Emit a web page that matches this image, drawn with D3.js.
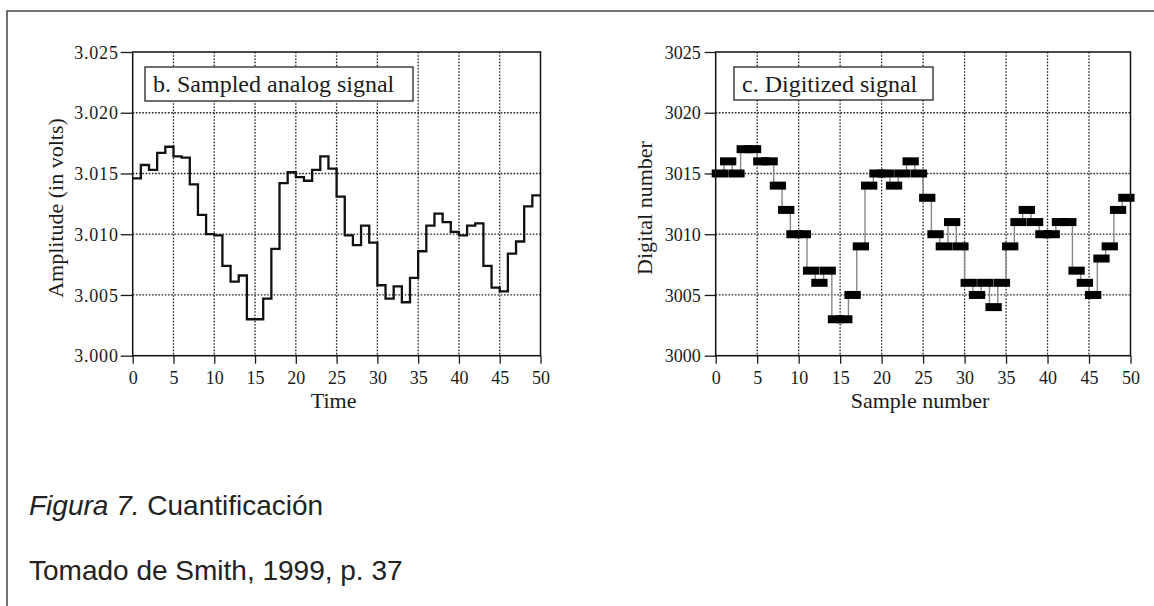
<!DOCTYPE html>
<html>
<head>
<meta charset="utf-8">
<script src="https://cdn.jsdelivr.net/npm/d3@7"></script>
<style>
  body { margin: 0; background: #fff; }
  svg { display: block; }
  .tick text { font-family: "Liberation Serif", "Times New Roman", serif; font-size: 18px; fill: #1a1a1a; }
  .tick line { stroke: #1a1a1a; stroke-width: 1.3; }
</style>
</head>
<body>
<svg id="fig" width="1154" height="606"></svg>
<script>
// sampled analog signal (volts), one value per sample 0..49
var analogValues = [3.0146, 3.0157, 3.0153, 3.0167, 3.0172, 3.0164, 3.0163, 3.0141, 3.0116, 3.0100,
  3.0099, 3.0074, 3.0061, 3.0066, 3.0030, 3.0030, 3.0047, 3.0088, 3.0142, 3.0151,
  3.0147, 3.0144, 3.0153, 3.0164, 3.0154, 3.0131, 3.0099, 3.0091, 3.0107, 3.0093,
  3.0058, 3.0047, 3.0057, 3.0044, 3.0064, 3.0086, 3.0107, 3.0117, 3.0110, 3.0102,
  3.0099, 3.0107, 3.0109, 3.0074, 3.0056, 3.0053, 3.0084, 3.0094, 3.0123, 3.0132];

// digitized signal (digital number), one value per sample 0..49
var digitalValues = [3015, 3016, 3015, 3017, 3017, 3016, 3016, 3014, 3012, 3010,
  3010, 3007, 3006, 3007, 3003, 3003, 3005, 3009, 3014, 3015,
  3015, 3014, 3015, 3016, 3015, 3013, 3010, 3009, 3011, 3009,
  3006, 3005, 3006, 3004, 3006, 3009, 3011, 3012, 3011, 3010,
  3010, 3011, 3011, 3007, 3006, 3005, 3008, 3009, 3012, 3013];

var xTicks = [0, 5, 10, 15, 20, 25, 30, 35, 40, 45, 50];
var analogTicks = [3.000, 3.005, 3.010, 3.015, 3.020, 3.025];
var digitalTicks = [3000, 3005, 3010, 3015, 3020, 3025];

var serif = '"Liberation Serif", "Times New Roman", serif';
var svg = d3.select('#fig');

// outer frame of the figure
svg.append('rect')
  .attr('x', 7).attr('y', 11)
  .attr('width', 1160).attr('height', 620)
  .attr('fill', 'none').attr('stroke', '#444').attr('stroke-width', 1.5);

function drawPanel(opt) {
  var x = d3.scaleLinear().domain([0, 50]).range([opt.left, opt.right]);
  var y = d3.scaleLinear().domain(opt.yDomain).range([355.7, 52]);
  var g = svg.append('g');

  // grid (dotted)
  g.selectAll('line.vgrid')
    .data(xTicks.slice(1, -1))
    .enter().append('line')
    .attr('x1', d => x(d)).attr('x2', d => x(d))
    .attr('y1', y.range()[1]).attr('y2', y.range()[0])
    .attr('stroke', '#222').attr('stroke-width', 1.3).attr('stroke-dasharray', '1.6,1.6');
  g.selectAll('line.hgrid')
    .data(opt.yTicks.slice(1, -1))
    .enter().append('line')
    .attr('y1', d => y(d)).attr('y2', d => y(d))
    .attr('x1', x.range()[0]).attr('x2', x.range()[1])
    .attr('stroke', '#222').attr('stroke-width', 1.3).attr('stroke-dasharray', '1.6,1.6');

  // axes
  var ax = g.append('g')
    .attr('transform', 'translate(0,' + y.range()[0] + ')')
    .call(d3.axisBottom(x).tickValues(xTicks).tickSize(8).tickPadding(8).tickFormat(d3.format('d')));
  ax.select('.domain').remove();

  var ay = g.append('g')
    .attr('transform', 'translate(' + x.range()[0] + ',0)')
    .call(d3.axisLeft(y).tickValues(opt.yTicks).tickSize(opt.tickLen).tickPadding(opt.tickPad).tickFormat(opt.fmt));
  ay.select('.domain').remove();
  ay.selectAll('.tick text').attr('dy', '0.34em').style('letter-spacing', opt.spacing);

  // legend box
  g.append('rect')
    .attr('x', opt.legend[0]).attr('y', opt.legend[1])
    .attr('width', opt.legend[2]).attr('height', opt.legend[3])
    .attr('fill', '#fff').attr('stroke', '#222').attr('stroke-width', 1.3);
  g.append('text')
    .attr('x', opt.legend[0] + 8).attr('y', opt.legend[1] + 24.5)
    .attr('font-family', serif).attr('font-size', 24).attr('fill', '#1a1a1a')
    .text(opt.title);

  // axis titles
  g.append('text')
    .attr('x', (x.range()[0] + x.range()[1]) / 2 - 3).attr('y', 408)
    .attr('text-anchor', 'middle')
    .attr('font-family', serif).attr('font-size', 22).attr('fill', '#1a1a1a')
    .text(opt.xLabel);
  g.append('text')
    .attr('transform', 'translate(' + opt.yLabelX + ',208) rotate(-90)')
    .attr('text-anchor', 'middle')
    .attr('font-family', serif).attr('font-size', 22).attr('fill', '#1a1a1a')
    .text(opt.yLabel);

  return { g: g, x: x, y: y };
}

// b. sampled analog signal
var p1 = drawPanel({
  left: 132.7, right: 540.5, yDomain: [3.000, 3.025], yTicks: analogTicks,
  fmt: d3.format('.3f'), tickLen: 12, tickPad: 2, spacing: '0.8px',
  legend: [145, 67, 268, 34], title: 'b. Sampled analog signal',
  xLabel: 'Time', yLabel: 'Amplitude (in volts)', yLabelX: 63
});

var analogPts = analogValues.map((v, i) => [i, v]);
analogPts.push([analogValues.length, analogValues[analogValues.length - 1]]);

var stepLine = d3.line()
  .x(d => p1.x(d[0]))
  .y(d => p1.y(d[1]))
  .curve(d3.curveStepAfter);

p1.g.append('path')
  .datum(analogPts)
  .attr('d', stepLine)
  .attr('fill', 'none').attr('stroke', '#111').attr('stroke-width', 2.3);

// c. digitized signal
var p2 = drawPanel({
  left: 715.7, right: 1130.5, yDomain: [3000, 3025], yTicks: digitalTicks,
  fmt: d3.format('d'), tickLen: 11, tickPad: 4, spacing: '0px',
  legend: [734, 67, 199, 33], title: 'c. Digitized signal',
  xLabel: 'Sample number', yLabel: 'Digital number', yLabelX: 652
});

// thin connectors between consecutive levels
p2.g.selectAll('line.conn')
  .data(digitalValues.slice(1))
  .enter().append('line')
  .attr('x1', (d, i) => p2.x(i + 1)).attr('x2', (d, i) => p2.x(i + 1))
  .attr('y1', (d, i) => p2.y(digitalValues[i])).attr('y2', d => p2.y(d))
  .attr('stroke', '#888').attr('stroke-width', 1.4);

// thick level bars
p2.g.selectAll('rect.bar')
  .data(digitalValues)
  .enter().append('rect')
  .attr('x', (d, i) => p2.x(i) - 4)
  .attr('width', (d, i) => p2.x(i + 1) - p2.x(i) + 8)
  .attr('y', d => p2.y(d) - 4)
  .attr('height', 8)
  .attr('fill', '#000');

// plot frames
[p1, p2].forEach(function (p) {
  p.g.append('rect')
    .attr('x', p.x.range()[0]).attr('y', p.y.range()[1])
    .attr('width', p.x.range()[1] - p.x.range()[0])
    .attr('height', p.y.range()[0] - p.y.range()[1])
    .attr('fill', 'none').attr('stroke', '#111').attr('stroke-width', 1.5);
});

// caption
var cap = svg.append('g').attr('font-family', '"Liberation Sans", Arial, sans-serif')
  .attr('font-size', 28).attr('fill', '#222');
var line1 = cap.append('text').attr('x', 29).attr('y', 515);
line1.append('tspan').attr('font-style', 'italic').text('Figura 7.');
line1.append('tspan').text(' Cuantificación');
cap.append('text').attr('x', 29).attr('y', 580).text('Tomado de Smith, 1999, p. 37');
</script>
</body>
</html>
